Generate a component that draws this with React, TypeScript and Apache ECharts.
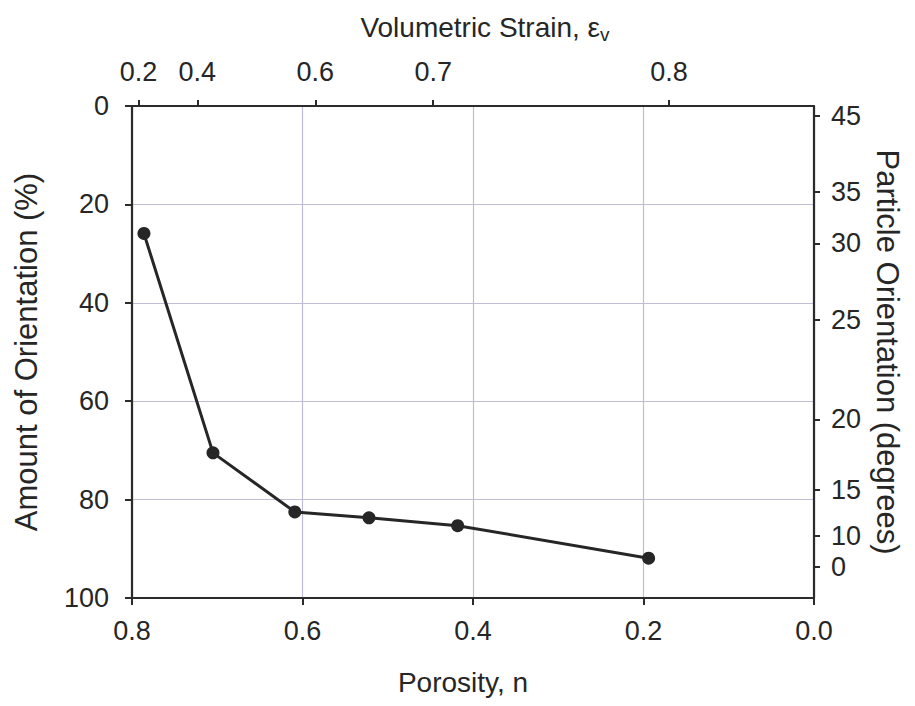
import React, { useEffect, useRef } from "react";
import * as echarts from "echarts";

// Measured data: porosity n vs amount of orientation (%)
const porosity = [0.786, 0.705, 0.609, 0.522, 0.418, 0.194];
const amountOfOrientation = [25.9, 70.5, 82.5, 83.7, 85.3, 91.9];

// Bottom axis ticks
const porosityTicks = [0.8, 0.6, 0.4, 0.2, 0.0];
// Left axis ticks
const amountTicks = [0, 20, 40, 60, 80, 100];

// Top axis: volumetric strain labels, placed on the porosity scale
const initialPorosity = 0.834;
const strainLabels = ["0.2", "0.4", "0.6", "0.7", "0.8"];
const strainValues = [0.2, 0.4, 0.6, 0.7, 0.8];
const strainPositions = strainValues.map((ev) => 1 - (1 - initialPorosity) / (1 - ev));

// Right axis: particle orientation (degrees), positions on the amount scale
const degreeLabels = ["45", "35", "30", "25", "20", "15", "10", "0"];
const degreePositions = [2.0, 17.5, 27.9, 43.4, 63.7, 78.0, 87.3, 93.6];

const FONT = "Liberation Sans, Arial, sans-serif";
const AXIS_COLOR = "#2b2b2b";
const GRID_COLOR = "#c3bcd6";
const TEXT_COLOR = "#262626";

export default function App() {
  const ref = useRef<HTMLDivElement>(null);
  useEffect(() => {
    if (!ref.current) return;
    const chart = echarts.init(ref.current, null, { renderer: "svg" });
    const axisLine = { show: true, onZero: false, lineStyle: { color: AXIS_COLOR, width: 2.2 } };
    const tick = { show: true, inside: false, length: 7, lineStyle: { color: AXIS_COLOR, width: 2 } };
    const labelStyle = {
      color: TEXT_COLOR,
      fontFamily: FONT,
      fontSize: 27,
      hideOverlap: false,
      showMinLabel: true,
      showMaxLabel: true,
    };
    const hNameStyle = { color: TEXT_COLOR, fontFamily: FONT, fontSize: 28 };
    const vNameStyle = { color: TEXT_COLOR, fontFamily: FONT, fontSize: 31 };

    chart.setOption({
      animation: false,
      backgroundColor: "#ffffff",
      grid: { left: 132, right: 101, top: 106, bottom: 108, containLabel: false },
      xAxis: [
        {
          type: "value",
          position: "bottom",
          min: 0,
          max: 0.8,
          interval: 0.2,
          inverse: true,
          axisLine,
          axisTick: tick,
          axisLabel: {
            ...labelStyle,
            margin: 19,
            formatter: (v: number) => v.toFixed(1),
          },
          splitLine: { show: true, lineStyle: { color: GRID_COLOR, width: 1.2 } },
          name: "Porosity, n",
          nameLocation: "middle",
          nameGap: 70,
          nameTextStyle: { ...hNameStyle, padding: [0, 20, 0, 0] },
        },
        {
          type: "value",
          position: "top",
          min: 0,
          max: 0.8,
          inverse: true,
          axisLine,
          axisTick: { ...tick, length: 6, customValues: strainPositions },
          axisLabel: {
            ...labelStyle,
            margin: 21,
            customValues: strainPositions,
            formatter: (v: number) => {
              const i = strainPositions.findIndex((p) => Math.abs(p - v) < 1e-9);
              return i >= 0 ? strainLabels[i] : "";
            },
          },
          splitLine: { show: false },
          name: "{t|Volumetric Strain, ε}{s|v}",
          nameLocation: "middle",
          nameGap: 62,
          nameTextStyle: {
            ...hNameStyle,
            padding: [0, 0, 0, 24],
            rich: {
              t: { ...hNameStyle },
              s: { color: TEXT_COLOR, fontFamily: FONT, fontSize: 19, padding: [14, 0, 0, 0] },
            },
          },
        },
      ],
      yAxis: [
        {
          type: "value",
          position: "left",
          min: 0,
          max: 100,
          interval: 20,
          inverse: true,
          axisLine,
          axisTick: tick,
          axisLabel: { ...labelStyle, margin: 23 },
          splitLine: { show: true, lineStyle: { color: GRID_COLOR, width: 1.2 } },
          name: "Amount of Orientation (%)",
          nameLocation: "middle",
          nameGap: 90,
          nameRotate: 90,
          nameTextStyle: vNameStyle,
        },
        {
          type: "value",
          position: "right",
          min: 0,
          max: 100,
          inverse: true,
          axisLine,
          axisTick: { ...tick, length: 6, customValues: degreePositions },
          axisLabel: {
            ...labelStyle,
            margin: 17,
            customValues: degreePositions,
            formatter: (v: number) => {
              const i = degreePositions.findIndex((p) => Math.abs(p - v) < 1e-9);
              return i >= 0 ? degreeLabels[i] : "";
            },
          },
          splitLine: { show: false },
          name: "Particle Orientation (degrees)",
          nameLocation: "middle",
          nameGap: 56,
          nameRotate: -90,
          nameTextStyle: vNameStyle,
        },
      ],
      series: [
        {
          type: "line",
          xAxisIndex: 0,
          yAxisIndex: 0,
          data: porosity.map((p, i) => [p, amountOfOrientation[i]]),
          symbol: "circle",
          symbolSize: 13,
          lineStyle: { color: "#262626", width: 3 },
          itemStyle: { color: "#262626" },
        },
      ],
    });
    return () => chart.dispose();
  }, []);
  return <div ref={ref} style={{ width: 915, height: 706, margin: -8 }} />;
}
